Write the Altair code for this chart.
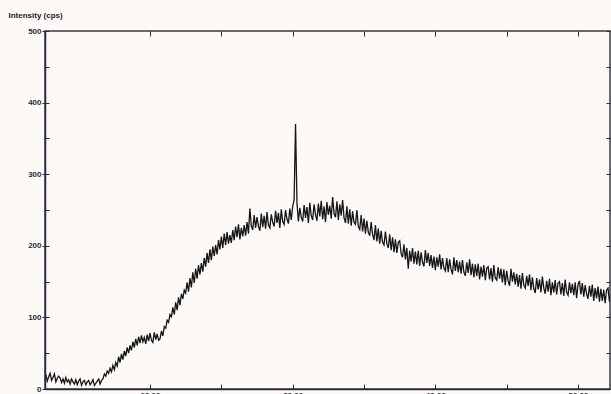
import altair as alt
import pandas as pd

# 2-theta scan: start angle, step (degrees)
start_deg = 12.7
step_deg = 0.1

# intensity (cps), one row per degree
intensity = [
    20, 11, 17, 22, 12, 16, 21, 10, 15, 18,
    15, 9, 14, 8, 16, 10, 13, 7, 14, 10,
    7, 13, 6, 11, 14, 5, 10, 12, 6, 10,
    12, 6, 9, 13, 5, 8, 11, 14, 7, 12,
    14, 21, 18, 25, 22, 29, 24, 33, 27, 37,
    32, 45, 37, 49, 41, 53, 46, 58, 50, 61,
    54, 66, 58, 70, 61, 73, 64, 75, 66, 72,
    63, 76, 67, 78, 68, 65, 79, 69, 77, 68,
    70, 81, 74, 87, 85, 96, 93, 104, 101, 114,
    104, 121, 110, 128, 117, 133, 126, 138, 134, 149,
    136, 155, 142, 163, 148, 168, 154, 173, 160, 176,
    164, 183, 171, 190, 176, 195, 180, 199, 186, 201,
    188, 208, 195, 213, 197, 217, 201, 219, 203, 215,
    204, 222, 208, 227, 212, 230, 209, 225, 213, 229,
    214, 233, 217, 252, 228, 222, 243, 225, 240, 227,
    221, 245, 226, 242, 224, 247, 229, 225, 244, 233,
    227, 249, 232, 246, 225, 251, 234, 230, 250, 237,
    231, 252, 236, 255, 264, 370, 260, 234, 253, 240,
    234, 257, 239, 254, 232, 260, 242, 236, 258, 244,
    235, 259, 241, 263, 237, 255, 233, 261, 243, 256,
    238, 268, 245, 240, 262, 236, 258, 242, 264, 239,
    232, 255, 231, 251, 228, 248, 233, 230, 250, 227,
    223, 243, 220, 238, 217, 235, 219, 214, 233, 216,
    208, 229, 206, 224, 203, 221, 205, 201, 220, 203,
    197, 216, 194, 212, 191, 209, 190, 205, 207, 189,
    184, 202, 181, 197, 168, 193, 178, 197, 175, 192,
    174, 193, 172, 191, 177, 171, 194, 176, 190, 172,
    187, 169, 185, 166, 184, 171, 188, 167, 183, 169,
    165, 183, 163, 181, 167, 160, 184, 165, 180, 163,
    178, 161, 180, 163, 158, 177, 162, 181, 159, 175,
    156, 174, 158, 175, 153, 171, 157, 173, 152, 169,
    171, 153, 169, 150, 173, 155, 152, 170, 154, 168,
    149, 167, 145, 165, 151, 144, 168, 150, 163, 146,
    161, 143, 159, 140, 162, 145, 141, 158, 144, 160,
    138, 156, 140, 134, 155, 139, 153, 135, 157, 141,
    133, 151, 136, 154, 131, 149, 135, 152, 132, 148,
    150, 132, 148, 130, 153, 135, 131, 149, 134, 147,
    131, 149, 127, 146, 151, 132, 148, 129, 145, 133,
    126, 144, 129, 146, 123, 141, 127, 143, 122, 140,
    123, 139, 120, 138, 141, 122, 136, 119, 137, 124,
]

x_ticks = [20, 25, 30, 35, 40, 45, 50]
x_labels = [20, 30, 40, 50]
y_major = [0, 100, 200, 300, 400, 500]
y_minor = [0, 50, 100, 150, 200, 250, 300, 350, 400, 450, 500]
x_domain = [12.64, 52.24]
y_domain = [0, 500]

df = pd.DataFrame({
    "angle": [round(start_deg + step_deg * i, 2) for i in range(len(intensity))],
    "cps": intensity,
})

W, H = 565, 358
FONT = "Liberation Sans"
INK = "#2a2d3a"

xs = alt.Scale(domain=x_domain, nice=False, zero=False)
ys = alt.Scale(domain=y_domain, nice=False)

base = alt.Chart(df)

main = base.mark_line(color="#161616", strokeWidth=1.3, clip=True).encode(
    x=alt.X("angle:Q", scale=xs, axis=alt.Axis(
        orient="bottom", values=x_labels, format=".2f", title=None,
        ticks=False, domain=True, domainColor=INK, domainWidth=1.5,
        labelFont=FONT, labelFontSize=8, labelFontWeight="bold",
        labelColor=INK, labelPadding=2, grid=False)),
    y=alt.Y("cps:Q", scale=ys, axis=alt.Axis(
        orient="left", values=y_major, title="Intensity (cps)",
        titleAngle=0, titleAlign="left", titleBaseline="alphabetic",
        titleX=-37, titleY=-14, titleFont=FONT, titleFontSize=8,
        titleFontWeight="bold", titleColor="#1a1a1a",
        labelFont=FONT, labelFontSize=8, labelFontWeight="bold",
        labelColor=INK, tickSize=3, tickColor=INK, labelPadding=1,
        domain=True, domainColor=INK, domainWidth=1.5, grid=False)),
)

def ghost(xaxis, yaxis):
    return base.mark_line(opacity=0).encode(
        x=alt.X("angle:Q", scale=xs, axis=xaxis),
        y=alt.Y("cps:Q", scale=ys, axis=yaxis),
    )

tick_common = dict(labels=False, title=None, domain=False, grid=False,
                   tickColor=INK, tickWidth=1)

# inward ticks along the bottom and the top, right side and left minor ticks
g1 = ghost(alt.Axis(orient="top", offset=-H, values=x_ticks, tickSize=5, **tick_common),
           alt.Axis(orient="right", offset=-W, values=y_minor, tickSize=4, **tick_common))
g2 = ghost(alt.Axis(orient="bottom", offset=-H, values=x_ticks, tickSize=5, **tick_common),
           alt.Axis(orient="left", offset=-W, values=y_minor, tickSize=4, **tick_common))

chart = alt.layer(main, g1, g2).resolve_axis(x="independent", y="independent").properties(
    width=W, height=H,
    padding={"left": 45, "top": 31, "right": 1, "bottom": 5},
    autosize=alt.AutoSizeParams(type="none"),
    background="#fdf9f7",
).configure_view(stroke="#3a3a44", strokeWidth=1.5)

chart.save("out.html", embed_options={"renderer": "svg", "actions": False})
